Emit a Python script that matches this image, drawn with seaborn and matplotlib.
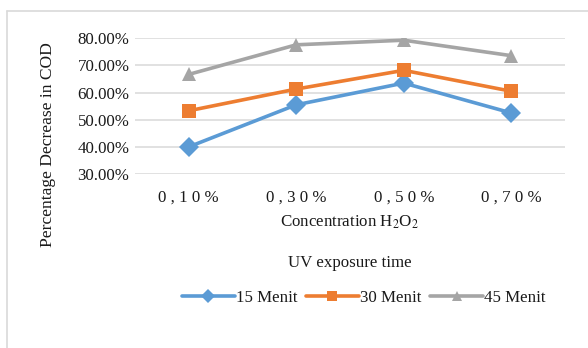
import matplotlib
matplotlib.use("Agg")
import matplotlib.pyplot as plt
import seaborn as sns
import pandas as pd
from matplotlib.ticker import FuncFormatter
from matplotlib.lines import Line2D

concentrations = ["0 , 1 0 %", "0 , 3 0 %", "0 , 5 0 %", "0 , 7 0 %"]
series_names = ["15 Menit", "30 Menit", "45 Menit"]
menit15 = [40.0, 55.5, 63.5, 52.5]
menit30 = [53.3, 61.3, 68.2, 60.5]
menit45 = [66.7, 77.6, 79.3, 73.6]
yticks = [30, 40, 50, 60, 70, 80]

rows = []
for name, vals in zip(series_names, [menit15, menit30, menit45]):
    for c, v in zip(concentrations, vals):
        rows.append({"Concentration": c, "Value": v, "Series": name})
df = pd.DataFrame(rows)

sns.set_theme(style="white")
plt.rcParams["font.family"] = ["Liberation Serif", "DejaVu Serif"]
plt.rcParams["mathtext.fontset"] = "stix"

colors = {"15 Menit": "#5B9BD5", "30 Menit": "#ED7D31", "45 Menit": "#A5A5A5"}
markers = {"15 Menit": "D", "30 Menit": "s", "45 Menit": "^"}
txt = "#1a1a1a"

fig = plt.figure(figsize=(5.88, 3.48), dpi=100)
ax = fig.add_axes([135/588, 1-174/348, 430/588, (174-38.3)/348])

sns.lineplot(data=df, x="Concentration", y="Value", hue="Series", style="Series",
             palette=colors, markers=markers, dashes=False, linewidth=2.6,
             markersize=10.5, markeredgewidth=0, ax=ax, sort=False)

ax.set_xlim(-0.5, 3.5)
ax.set_ylim(30, 80)
ax.set_yticks(yticks)
ax.yaxis.set_major_formatter(FuncFormatter(lambda v, p: f"{v:.2f}%"))
ax.grid(axis="y", color="#D9D9D9", linewidth=1.1)
ax.grid(axis="x", visible=False)
for s in ax.spines.values():
    s.set_visible(False)
ax.tick_params(axis="both", length=0, labelsize=12.2, colors=txt)
ax.tick_params(axis="x", pad=11)
ax.tick_params(axis="y", pad=4)
ax.set_xlabel("")
ax.set_ylabel("")

fig.text(350/588, 1-222/348, r"Concentration H$_2$O$_2$", ha="center", va="center",
         fontsize=12.2, color=txt)
fig.text(350/588, 1-263/348, "UV exposure time", ha="center", va="center",
         fontsize=12.2, color=txt)
fig.text(48/588, 1-145/348, "Percentage Decrease in COD", ha="center", va="center",
         rotation=90, fontsize=12.6, color=txt)

ax.get_legend().remove()
new_handles = []
for name in series_names:
    new_handles.append(Line2D([], [], color=colors[name], marker=markers[name],
                              markersize=7.5, markeredgewidth=0, linewidth=2.6))
fig.legend(new_handles, series_names, loc="center", bbox_to_anchor=(364/588, 1-298/348),
           ncol=3, frameon=False, fontsize=12.2, handlelength=3.1, handletextpad=0.1,
           columnspacing=0.5, labelcolor=txt)

# chart border (left and top visible)
fig.add_artist(Line2D([7/588, 7/588], [0, 1-11/348], color="#D9D9D9", linewidth=1.2,
                      transform=fig.transFigure))
fig.add_artist(Line2D([7/588, 1], [1-11/348, 1-11/348], color="#D9D9D9", linewidth=1.2,
                      transform=fig.transFigure))

fig.savefig("out.png", dpi=100)
